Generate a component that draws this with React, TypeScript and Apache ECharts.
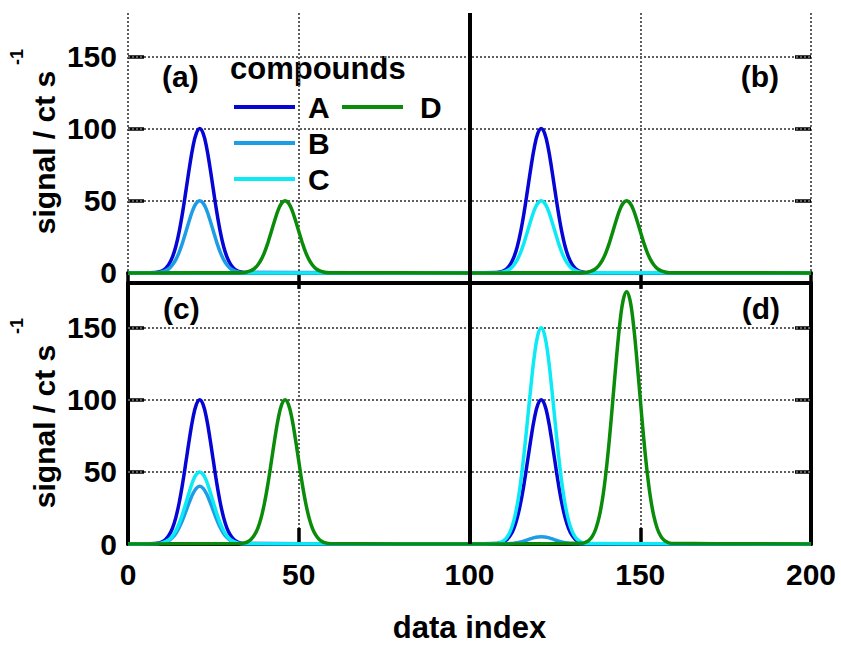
import React, { useEffect, useRef } from "react";
import * as echarts from "echarts";

// ---- axis ticks ----
const xTicks = [0, 50, 100, 150, 200];
const yTicks = [0, 50, 100, 150];
const yGridValues = [50, 100, 150];

// ---- peak sampling (data index offsets from each peak centre) ----
const peakOffsets = [-13, -12, -11, -10, -9, -8, -7, -6, -5, -4, -3, -2, -1, 0, 1, 2, 3, 4, 5, 6, 7, 8, 9, 10, 11, 12, 13];
const centerABC = [21, 121]; // left panel, right panel
const centerD = [46, 146];

// ---- panel (a) ----
const aA = [0.3, 0.7, 1.5, 3.1, 6.1, 10.9, 18.3, 28.8, 42.1, 57.5, 73.2, 87.1, 96.6, 100, 96.6, 87.1, 73.2, 57.5, 42.1, 28.8, 18.3, 10.9, 6.1, 3.1, 1.5, 0.7, 0.3];
const aB = [0.1, 0.3, 0.8, 1.6, 3.0, 5.5, 9.2, 14.4, 21.1, 28.8, 36.6, 43.6, 48.3, 50, 48.3, 43.6, 36.6, 28.8, 21.1, 14.4, 9.2, 5.5, 3.0, 1.6, 0.8, 0.3, 0.1];
const aC: number[] | null = null;
const aD = [0.1, 0.3, 0.8, 1.6, 3.0, 5.5, 9.2, 14.4, 21.1, 28.8, 36.6, 43.6, 48.3, 50, 48.3, 43.6, 36.6, 28.8, 21.1, 14.4, 9.2, 5.5, 3.0, 1.6, 0.8, 0.3, 0.1];
// ---- panel (b) ----
const bA = [0.3, 0.7, 1.5, 3.1, 6.1, 10.9, 18.3, 28.8, 42.1, 57.5, 73.2, 87.1, 96.6, 100, 96.6, 87.1, 73.2, 57.5, 42.1, 28.8, 18.3, 10.9, 6.1, 3.1, 1.5, 0.7, 0.3];
const bB: number[] | null = null;
const bC = [0.1, 0.3, 0.8, 1.6, 3.0, 5.5, 9.2, 14.4, 21.1, 28.8, 36.6, 43.6, 48.3, 50, 48.3, 43.6, 36.6, 28.8, 21.1, 14.4, 9.2, 5.5, 3.0, 1.6, 0.8, 0.3, 0.1];
const bD = [0.1, 0.3, 0.8, 1.6, 3.0, 5.5, 9.2, 14.4, 21.1, 28.8, 36.6, 43.6, 48.3, 50, 48.3, 43.6, 36.6, 28.8, 21.1, 14.4, 9.2, 5.5, 3.0, 1.6, 0.8, 0.3, 0.1];
// ---- panel (c) ----
const cA = [0.3, 0.7, 1.5, 3.1, 6.1, 10.9, 18.3, 28.8, 42.1, 57.5, 73.2, 87.1, 96.6, 100, 96.6, 87.1, 73.2, 57.5, 42.1, 28.8, 18.3, 10.9, 6.1, 3.1, 1.5, 0.7, 0.3];
const cB = [0.1, 0.3, 0.6, 1.3, 2.4, 4.4, 7.3, 11.5, 16.8, 23.0, 29.3, 34.8, 38.6, 40, 38.6, 34.8, 29.3, 23.0, 16.8, 11.5, 7.3, 4.4, 2.4, 1.3, 0.6, 0.3, 0.1];
const cC = [0.1, 0.3, 0.8, 1.6, 3.0, 5.5, 9.2, 14.4, 21.1, 28.8, 36.6, 43.6, 48.3, 50, 48.3, 43.6, 36.6, 28.8, 21.1, 14.4, 9.2, 5.5, 3.0, 1.6, 0.8, 0.3, 0.1];
const cD = [0.3, 0.7, 1.5, 3.1, 6.1, 10.9, 18.3, 28.8, 42.1, 57.5, 73.2, 87.1, 96.6, 100, 96.6, 87.1, 73.2, 57.5, 42.1, 28.8, 18.3, 10.9, 6.1, 3.1, 1.5, 0.7, 0.3];
// ---- panel (d) ----
const dA = [0.3, 0.7, 1.5, 3.1, 6.1, 10.9, 18.3, 28.8, 42.1, 57.5, 73.2, 87.1, 96.6, 100, 96.6, 87.1, 73.2, 57.5, 42.1, 28.8, 18.3, 10.9, 6.1, 3.1, 1.5, 0.7, 0.3];
const dB = [0, 0, 0.1, 0.2, 0.3, 0.5, 0.9, 1.4, 2.1, 2.9, 3.7, 4.4, 4.8, 5, 4.8, 4.4, 3.7, 2.9, 2.1, 1.4, 0.9, 0.5, 0.3, 0.2, 0.1, 0, 0];
const dC = [0.4, 1.0, 2.3, 4.7, 9.1, 16.4, 27.5, 43.2, 63.2, 86.3, 109.8, 130.7, 144.9, 150, 144.9, 130.7, 109.8, 86.3, 63.2, 43.2, 27.5, 16.4, 9.1, 4.7, 2.3, 1.0, 0.4];
const dD = [0.5, 1.2, 2.6, 5.5, 10.6, 19.1, 32.0, 50.4, 73.7, 100.6, 128.1, 152.4, 169.1, 175, 169.1, 152.4, 128.1, 100.6, 73.7, 50.4, 32.0, 19.1, 10.6, 5.5, 2.6, 1.2, 0.5];

const compounds = ["A", "B", "C", "D"];
const colors = ["#0505D6", "#1C9DE6", "#0CEAF6", "#0A8C0A"];
const panelLabels = ["(a)", "(b)", "(c)", "(d)"];

const FONT = '"Liberation Sans", Arial, sans-serif';

function peak(center: number, vals: number[] | null) {
  return vals ? vals.map((v, i) => [center + peakOffsets[i], v]) : [];
}
function trace(centers: number[], left: number[] | null, right: number[] | null) {
  return [[0, 0], ...peak(centers[0], left), [100, 0], ...peak(centers[1], right), [200, 0]];
}

const topTraces = [
  trace(centerABC, aA, bA),
  trace(centerABC, aB, bB),
  trace(centerABC, aC, bC),
  trace(centerD, aD, bD),
];
const bottomTraces = [
  trace(centerABC, cA, dA),
  trace(centerABC, cB, dB),
  trace(centerABC, cC, dC),
  trace(centerD, cD, dD),
];

const dotted = { color: "#5e5e5e", width: 2, type: [2, 2] as any };
const blackTick = { inside: true, length: 16, lineStyle: { color: "#000", width: 3.5 } };

export default function App() {
  const ref = useRef<HTMLDivElement>(null);
  useEffect(() => {
    if (!ref.current) return;
    const chart = echarts.init(ref.current, null, { renderer: "svg" });

    const separator = {
      silent: true,
      symbol: ["none", "none"],
      label: { show: false },
      lineStyle: { color: "#000", width: 4, type: "solid" },
      emphasis: { disabled: true },
      data: [{ xAxis: 100 }],
      z: 10,
    };
    const hGrid = {
      silent: true,
      symbol: ["none", "none"],
      label: { show: false },
      lineStyle: { ...dotted },
      emphasis: { disabled: true },
      data: yGridValues.map((v) => ({ yAxis: v })),
      z: 1,
    };

    const mkSeries = (traces: number[][][], gridIdx: number) =>
      traces.map((d, i) => ({
        name: compounds[i],
        type: "line",
        xAxisIndex: gridIdx === 0 ? 0 : 1,
        yAxisIndex: gridIdx === 0 ? 0 : 2,
        data: d,
        showSymbol: false,
        smooth: 0.4,
        color: colors[i],
        itemStyle: { color: colors[i] },
        lineStyle: { color: colors[i], width: 3.5 },
        silent: true,
        z: 2 + i,
        ...(i === 3 ? { markLine: separator } : {}),
        ...(i === 0 ? { markLine: hGrid } : {}),
      }));

    const textStyleBold = (size: number) => ({
      fontFamily: FONT,
      fontWeight: "bold",
      fontSize: size,
      fill: "#000",
    });

    const option: any = {
      animation: false,
      backgroundColor: "#fff",
      grid: [
        { left: 128, right: 30, top: 13, height: 270, outerBoundsMode: "none", containLabel: false },
        { left: 128, right: 30, top: 283, height: 261, outerBoundsMode: "none", containLabel: false },
      ],
      xAxis: [
        {
          gridIndex: 0, type: "value", position: "top", min: 0, max: 200, interval: 50,
          axisLine: { show: true, lineStyle: { color: "#000", width: 4 } },
          axisTick: blackTick,
          axisLabel: { show: false },
          splitLine: { show: true, lineStyle: dotted },
        },
        {
          gridIndex: 1, type: "value", position: "bottom", min: 0, max: 200, interval: 50,
          axisLine: { show: true, onZero: false, lineStyle: { color: "#000", width: 4 } },
          axisTick: blackTick,
          axisLabel: { show: true, margin: 15, color: "#000", fontFamily: FONT, fontWeight: "bold", fontSize: 30, customValues: xTicks },
          splitLine: { show: true, lineStyle: dotted },
          name: "data index",
          nameLocation: "middle",
          nameGap: 68,
          nameTextStyle: { color: "#000", fontFamily: FONT, fontWeight: "bold", fontSize: 31 },
        },
        {
          gridIndex: 1, type: "value", position: "top", min: 0, max: 200, interval: 50,
          axisLine: { show: true, onZero: false, lineStyle: { color: "#000", width: 4 } },
          axisTick: { show: false },
          axisLabel: { show: false },
          splitLine: { show: false },
        },
      ],
      yAxis: [
        {
          gridIndex: 0, type: "value", position: "left", min: -7, max: 180,
          axisLine: { show: false },
          axisTick: { ...blackTick, customValues: yTicks },
          axisLabel: { show: true, margin: 11, color: "#000", fontFamily: FONT, fontWeight: "bold", fontSize: 30, customValues: yTicks },
          splitLine: { show: false },
        },
        {
          gridIndex: 0, type: "value", position: "right", min: -7, max: 180,
          axisLine: { show: false },
          axisTick: { ...blackTick, customValues: yTicks },
          axisLabel: { show: false, customValues: yTicks },
          splitLine: { show: false },
        },
        {
          gridIndex: 1, type: "value", position: "left", min: 0, max: 181,
          axisLine: { show: true, onZero: false, lineStyle: { color: "#000", width: 4 } },
          axisTick: { ...blackTick, customValues: yTicks },
          axisLabel: { show: true, margin: 11, color: "#000", fontFamily: FONT, fontWeight: "bold", fontSize: 30, customValues: yTicks },
          splitLine: { show: false },
        },
        {
          gridIndex: 1, type: "value", position: "right", min: 0, max: 181,
          axisLine: { show: true, onZero: false, lineStyle: { color: "#000", width: 4 } },
          axisTick: { ...blackTick, customValues: yTicks },
          axisLabel: { show: false, customValues: yTicks },
          splitLine: { show: false },
        },
      ],
      legend: [
        {
          data: compounds.slice(0, 3), orient: "vertical", left: 234, top: 89, padding: 0,
          itemWidth: 61, itemHeight: 4, itemGap: 0, icon: "rect", selectedMode: false,
          textStyle: { color: "#000", fontFamily: FONT, fontWeight: "bold", fontSize: 30, lineHeight: 36, padding: [0, 0, 0, 8] },
        },
        {
          data: compounds.slice(3), orient: "vertical", left: 342, top: 89, padding: 0,
          itemWidth: 61, itemHeight: 4, itemGap: 0, icon: "rect", selectedMode: false,
          textStyle: { color: "#000", fontFamily: FONT, fontWeight: "bold", fontSize: 30, lineHeight: 36, padding: [0, 0, 0, 12] },
        },
      ],
      graphic: [
        { type: "text", x: 230, y: 68.5, silent: true, style: { text: "compounds", ...textStyleBold(31), align: "left", verticalAlign: "middle", textAlign: "left", textVerticalAlign: "middle" } },
        { type: "text", x: 162, y: 76, silent: true, style: { text: panelLabels[0], ...textStyleBold(30), align: "left", verticalAlign: "middle", textAlign: "left", textVerticalAlign: "middle" } },
        { type: "text", x: 779, y: 76, silent: true, style: { text: panelLabels[1], ...textStyleBold(30), align: "right", verticalAlign: "middle", textAlign: "right", textVerticalAlign: "middle" } },
        { type: "text", x: 163, y: 308, silent: true, style: { text: panelLabels[2], ...textStyleBold(30), align: "left", verticalAlign: "middle", textAlign: "left", textVerticalAlign: "middle" } },
        { type: "text", x: 780, y: 308, silent: true, style: { text: panelLabels[3], ...textStyleBold(30), align: "right", verticalAlign: "middle", textAlign: "right", textVerticalAlign: "middle" } },
        { type: "text", x: 44.5, y: 152.5, rotation: Math.PI / 2, silent: true, style: { text: "signal / ct s", ...textStyleBold(30), align: "center", verticalAlign: "middle", textAlign: "center", textVerticalAlign: "middle" } },
        { type: "text", x: 16.5, y: 57, rotation: Math.PI / 2, silent: true, style: { text: "-1", ...textStyleBold(18), align: "center", verticalAlign: "middle", textAlign: "center", textVerticalAlign: "middle" } },
        { type: "text", x: 44.5, y: 426.5, rotation: Math.PI / 2, silent: true, style: { text: "signal / ct s", ...textStyleBold(30), align: "center", verticalAlign: "middle", textAlign: "center", textVerticalAlign: "middle" } },
        { type: "text", x: 16.5, y: 326, rotation: Math.PI / 2, silent: true, style: { text: "-1", ...textStyleBold(18), align: "center", verticalAlign: "middle", textAlign: "center", textVerticalAlign: "middle" } },
      ],
      series: [...mkSeries(topTraces, 0), ...mkSeries(bottomTraces, 1)],
    };

    chart.setOption(option);
    return () => chart.dispose();
  }, []);

  return (
    <div
      ref={ref}
      style={{ position: "fixed", left: 0, top: 0, width: 841, height: 645, background: "#fff" }}
    />
  );
}
